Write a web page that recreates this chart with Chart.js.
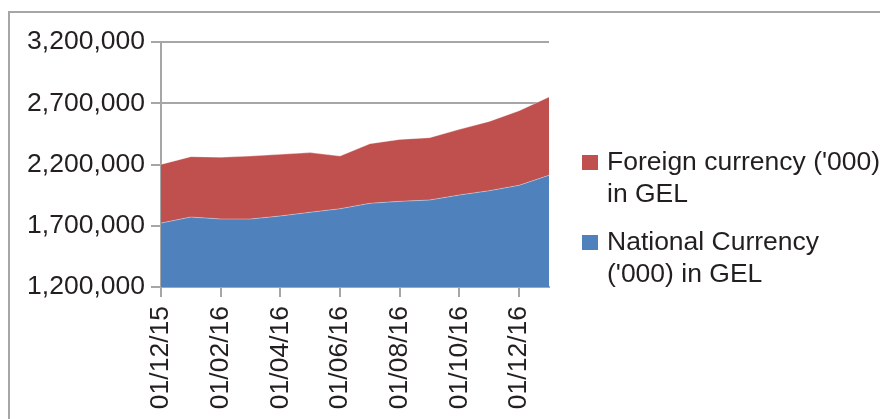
<!DOCTYPE html>
<html>
<head>
<meta charset="utf-8">
<script src="https://cdn.jsdelivr.net/npm/chart.js@4/dist/chart.umd.min.js"></script>
<style>
  html, body { margin: 0; padding: 0; background: #fff; overflow: hidden; }
  #wrap { position: relative; width: 880px; height: 419px; }
  #frame { position: absolute; left: 8px; top: 11px; width: 900px; height: 500px;
           border: 2px solid #a6a6a6; box-sizing: border-box; pointer-events: none; }
  canvas { position: absolute; left: 0; top: 0; }
</style>
</head>
<body>
<div id="wrap">
  <canvas id="chart" width="880" height="419"></canvas>
  <div id="frame"></div>
</div>
<script>
// Dates (monthly, dd/mm/yy)
const dates = ["01/12/15","01/01/16","01/02/16","01/03/16","01/04/16","01/05/16","01/06/16",
               "01/07/16","01/08/16","01/09/16","01/10/16","01/11/16","01/12/16","01/01/17"];

// Values in '000 GEL
const national = [1722000,1771000,1755000,1755000,1780000,1810000,1839000,
                  1883000,1899000,1910000,1951000,1986000,2030000,2112000];
const foreign  = [479000,493000,504000,514000,503000,487000,430000,
                  487000,506000,509000,536000,566000,609000,639000];

const yTicks = [1200000, 1700000, 2200000, 2700000, 3200000];

const FONT = "'Liberation Sans', Arial, Helvetica, sans-serif";
const FSIZE = 26.5;
const GRID = "#a6a6a6";
const TXT = "#231f20";

// legend drawn by hand so the labels can wrap like the original
const sideLegend = {
  id: "sideLegend",
  afterDraw(chart) {
    const ctx = chart.ctx;
    const items = chart.data.datasets.slice().reverse();
    const tops = [170, 250];
    ctx.save();
    ctx.font = FSIZE + "px " + FONT;
    ctx.textBaseline = "alphabetic";
    ctx.textAlign = "left";
    items.forEach((ds, i) => {
      const y = tops[i];
      ctx.fillStyle = ds.backgroundColor;
      ctx.fillRect(582, y - 15, 16, 15);
      ctx.fillStyle = TXT;
      ds.label.forEach((line, j) => ctx.fillText(line, 607, y + j * 32));
    });
    ctx.restore();
  }
};

new Chart(document.getElementById("chart"), {
  type: "line",
  data: {
    labels: dates,
    datasets: [
      {
        label: ["National Currency", "('000) in GEL"],
        data: national,
        backgroundColor: "#4f81bd",
        borderColor: "rgba(255,255,255,0.35)",
        borderWidth: 1,
        pointRadius: 0,
        fill: "start",
        tension: 0
      },
      {
        label: ["Foreign currency ('000)", "in GEL"],
        data: foreign,
        backgroundColor: "#c0504d",
        borderColor: "rgba(255,255,255,0.35)",
        borderWidth: 1,
        pointRadius: 0,
        fill: "-1",
        tension: 0
      }
    ]
  },
  options: {
    responsive: false,
    devicePixelRatio: 1,
    animation: false,
    layout: { padding: { top: 42, right: 331, left: 0, bottom: 0 } },
    plugins: { legend: { display: false }, tooltip: { enabled: false } },
    scales: {
      x: {
        offset: false,
        afterFit: s => { s.height = 132; },
        grid: {
          drawOnChartArea: false,
          tickLength: 10,
          lineWidth: 2,
          color: c => (c.index % 2 === 0 ? GRID : "rgba(0,0,0,0)"),
          tickColor: c => (c.index % 2 === 0 ? GRID : "rgba(0,0,0,0)")
        },
        border: { display: true, color: GRID, width: 2 },
        ticks: {
          autoSkip: false,
          maxRotation: 90,
          minRotation: 90,
          padding: 9,
          color: TXT,
          font: { family: FONT, size: FSIZE },
          callback: function (v, i) { return i % 2 === 0 ? this.getLabelForValue(v) : ""; }
        }
      },
      y: {
        stacked: true,
        min: yTicks[0],
        max: yTicks[yTicks.length - 1],
        afterFit: s => { s.width = 161; },
        afterBuildTicks: s => { s.ticks = yTicks.map(v => ({ value: v })); },
        grid: { color: GRID, lineWidth: 2, tickLength: 10 },
        border: { display: true, color: GRID, width: 2 },
        ticks: {
          padding: 6,
          color: TXT,
          font: { family: FONT, size: FSIZE },
          callback: v => v.toLocaleString("en-US")
        }
      }
    }
  },
  plugins: [sideLegend]
});
</script>
</body>
</html>
